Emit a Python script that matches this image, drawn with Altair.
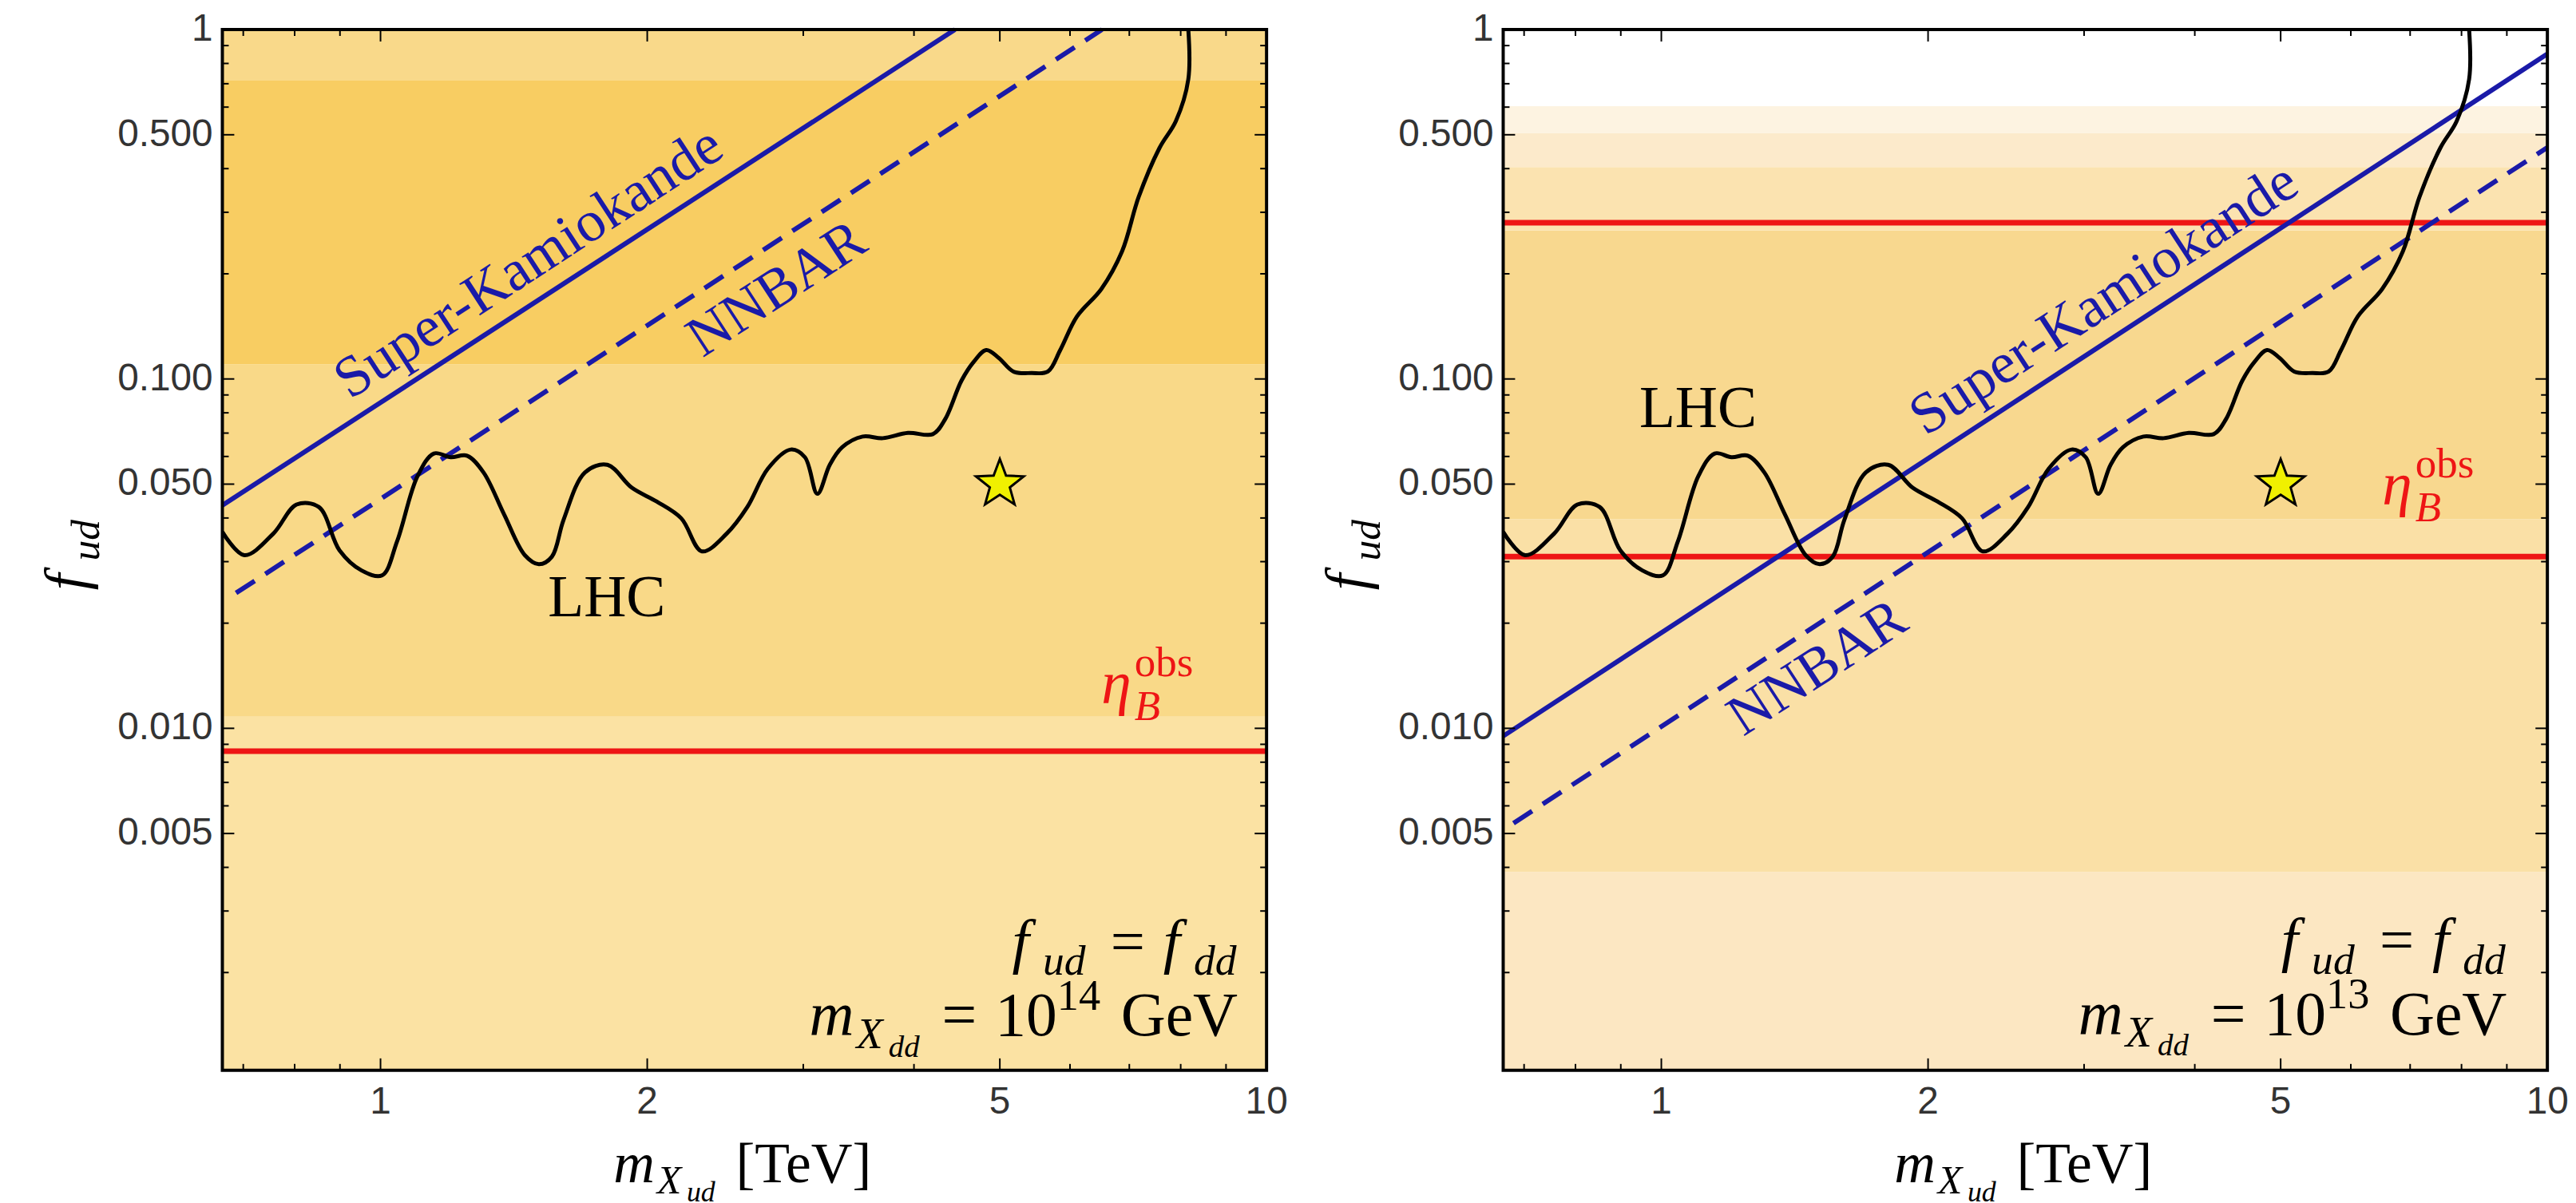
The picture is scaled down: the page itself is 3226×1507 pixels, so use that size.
import altair as alt
import pandas as pd

# ---------------- data ----------------
X_MIN, X_MAX = 0.663, 10.0
Y_MIN, Y_MAX = 0.00105, 1.0

lhc_m = [0.663, 0.702, 0.757, 0.804, 0.852, 0.899, 0.952, 1.004, 1.044, 1.101, 1.149, 1.200,
         1.252, 1.307, 1.379, 1.455, 1.509, 1.561, 1.609, 1.701, 1.803, 1.922, 2.049, 2.185,
         2.306, 2.459, 2.594, 2.737, 2.904, 3.013, 3.112, 3.214, 3.318, 3.500, 3.690, 3.938,
         4.201, 4.339, 4.525, 4.673, 4.826, 4.984, 5.180, 5.430, 5.665, 5.85, 6.11, 6.51,
         6.87, 7.17, 7.57, 7.90, 8.16, 8.16]
lhc_f = [0.0365, 0.0313, 0.0361, 0.0437, 0.0430, 0.0323, 0.0283, 0.0274, 0.0343, 0.0527, 0.0612, 0.0597,
         0.0603, 0.0540, 0.0409, 0.0313, 0.0295, 0.0310, 0.0395, 0.0540, 0.0568, 0.0488, 0.0446, 0.0399,
         0.0321, 0.0361, 0.0430, 0.0554, 0.0628, 0.0597, 0.0469, 0.0568, 0.0637, 0.0684, 0.0677, 0.0701,
         0.0695, 0.0768, 0.0988, 0.112, 0.121, 0.115, 0.105, 0.104, 0.105, 0.121, 0.151, 0.181,
         0.232, 0.331, 0.458, 0.547, 0.721, 1.0]

left_sk_m, left_sk_f = [0.663, 4.45], [0.0435, 1.0]
left_nn_m, left_nn_f = [0.687, 6.52], [0.0244, 1.0]
right_sk_m, right_sk_f = [0.663, 10.0], [0.0095, 0.852]
right_nn_m, right_nn_f = [0.681, 10.0], [0.00535, 0.46]

left_eta = [0.0086]
right_eta = [0.28, 0.031]

left_band_lo = [Y_MIN, 0.0108, 0.110, 0.714]
left_band_hi = [0.0108, 0.110, 0.714, 1.0]
left_band_col = ["#FBE2A3", "#F9D988", "#F8CD62", "#F9D98A"]

right_band_lo = [Y_MIN, 0.00388, 0.0397, 0.266, 0.404, 0.506]
right_band_hi = [0.00388, 0.0397, 0.266, 0.404, 0.506, 0.604]
right_band_col = ["#FCE7C2", "#FAE0A6", "#F8D88F", "#FBE3B0", "#FCEACB", "#FDF3E1"]

star_m, star_f = [5.0], [0.05]

x_major = [1, 2, 5, 10]
x_major_lbl = ["1", "2", "5", "10"]
x_minor = [0.7, 0.8, 0.9, 3, 4, 6, 7, 8, 9]
y_major = [0.005, 0.01, 0.05, 0.1, 0.5, 1.0]
y_major_lbl = ["0.005", "0.010", "0.050", "0.100", "0.500", "1"]
y_minor = [0.002, 0.003, 0.004, 0.006, 0.007, 0.008, 0.009, 0.02, 0.03, 0.04, 0.06, 0.07,
           0.08, 0.09, 0.2, 0.3, 0.4, 0.6, 0.7, 0.8, 0.9]

# label anchor positions (data coordinates)
left_sk_lbl, right_sk_lbl = (1.47, 0.215), (3.16, 0.169)
left_nn_lbl, right_nn_lbl = (2.80, 0.181), (1.50, 0.0149)
left_lhc_lbl, right_lhc_lbl = (1.80, 0.0235), (1.10, 0.0818)
left_eta_lbl, right_eta_lbl = (6.51, 0.0118), (6.51, 0.0438)
left_note = (9.28, 0.00215, 0.00132)
right_note = (9.0, 0.00217, 0.00133)
left_exp, right_exp = "14", "13"

# ---------------- style ----------------
W, H = 1315, 1311
SERIF = "Liberation Serif"
SANS = "Liberation Sans"
BLUE = "#1A1AA8"
RED = "#EE1515"
ANGLE = 326.9
STAR = ("M0,-1 L0.247,-0.340 L0.951,-0.309 L0.399,0.130 L0.588,0.809 L0,0.42 "
        "L-0.588,0.809 L-0.399,0.130 L-0.951,-0.309 L-0.247,-0.340 Z")

xs = alt.Scale(type="log", domain=[X_MIN, X_MAX], nice=False)
ys = alt.Scale(type="log", domain=[Y_MIN, Y_MAX], nice=False)


def XE(field="x"):
    return alt.X(f"{field}:Q", scale=xs, axis=None)


def YE(field="y"):
    return alt.Y(f"{field}:Q", scale=ys, axis=None)


def compose(pieces, S, align):
    out, cur = [], 0.0
    for txt, sf, it, dyf, pre, adv in pieces:
        cur += pre
        out.append((txt, sf * S, it, cur * S, dyf * S))
        cur += adv
    total = cur * S
    shift = {"left": 0.0, "center": -total / 2, "right": -total}[align]
    return [(t, s, it, dx + shift, dy) for t, s, it, dx, dy in out]


def rich(xe, ye, pieces, S, align, color, angle=0, df=None):
    if df is None:
        df = pd.DataFrame({"x": [0], "y": [0]})
    layers = []
    for txt, size, it, dx, dy in compose(pieces, S, align):
        layers.append(alt.Chart(df).mark_text(
            text=txt, font=SERIF, fontSize=size, fontStyle="italic" if it else "normal",
            align="left", baseline="alphabetic", dx=dx, dy=dy, color=color, angle=angle
        ).encode(x=xe, y=ye))
    return layers


def pt(x, y):
    return pd.DataFrame({"x": [x], "y": [y]})


def ticks():
    layers = []
    for vals, ln in ((x_major, 15), (x_minor, 8)):
        d = pd.DataFrame({"v": vals})
        layers.append(alt.Chart(d).mark_rule(color="black", strokeWidth=2).encode(
            x=XE("v"), y=alt.value(H), y2=alt.value(H - ln)))
        layers.append(alt.Chart(d).mark_rule(color="black", strokeWidth=2).encode(
            x=XE("v"), y=alt.value(0), y2=alt.value(ln)))
    for vals, ln in ((y_major, 15), (y_minor, 8)):
        d = pd.DataFrame({"v": vals})
        layers.append(alt.Chart(d).mark_rule(color="black", strokeWidth=2).encode(
            y=YE("v"), x=alt.value(0), x2=alt.value(ln)))
        layers.append(alt.Chart(d).mark_rule(color="black", strokeWidth=2).encode(
            y=YE("v"), x=alt.value(W), x2=alt.value(W - ln)))
    # tick labels
    xl = pd.DataFrame({"v": x_major, "t": x_major_lbl})
    layers.append(alt.Chart(xl).mark_text(
        font=SANS, fontSize=48, color="#333333", align="center", baseline="top").encode(
        x=XE("v"), y=alt.value(H + 17), text="t:N"))
    yl = pd.DataFrame({"v": y_major, "t": y_major_lbl})
    layers.append(alt.Chart(yl).mark_text(
        font=SANS, fontSize=48, color="#333333", align="right", baseline="middle").encode(
        y=YE("v"), x=alt.value(-12), text="t:N"))
    return layers


def panel(band_lo, band_hi, band_col, eta_vals, sk_m, sk_f, nn_m, nn_f,
          sk_lbl, nn_lbl, lhc_lbl, eta_lbl, note, exp):
    bdf = pd.DataFrame({"lo": band_lo, "hi": band_hi, "c": band_col,
                        "x0": [X_MIN] * len(band_lo), "x1": [X_MAX] * len(band_lo)})
    bands = alt.Chart(bdf).mark_rect().encode(
        x=XE("x0"), x2="x1:Q", y=YE("lo"), y2="hi:Q",
        color=alt.Color("c:N", scale=None),
    )
    layers = [bands]

    layers.append(alt.Chart(pd.DataFrame({"f": eta_vals})).mark_rule(
        color=RED, strokeWidth=7).encode(y=YE("f")))

    sk = pd.DataFrame({"m": sk_m, "f": sk_f})
    nn = pd.DataFrame({"m": nn_m, "f": nn_f})
    layers.append(alt.Chart(sk).mark_line(color=BLUE, strokeWidth=6).encode(x=XE("m"), y=YE("f")))
    layers.append(alt.Chart(nn).mark_line(color=BLUE, strokeWidth=6, strokeDash=[28, 16]).encode(
        x=XE("m"), y=YE("f")))

    lhc = pd.DataFrame({"m": lhc_m, "f": lhc_f, "i": list(range(len(lhc_m)))})
    layers.append(alt.Chart(lhc).mark_line(color="black", strokeWidth=5, clip=True,
                                           interpolate="catmull-rom").encode(
        x=XE("m"), y=YE("f"), order="i:Q"))

    layers.append(alt.Chart(pd.DataFrame({"m": star_m, "f": star_f})).mark_point(
        shape=STAR, size=4000, filled=True, fill="#F0F000", stroke="black", strokeWidth=3,
        opacity=1).encode(x=XE("m"), y=YE("f")))

    # labels
    layers.append(alt.Chart(pt(*sk_lbl)).mark_text(
        text="Super-Kamiokande", font=SERIF, fontSize=73, color=BLUE, angle=ANGLE,
        align="center", baseline="middle").encode(x=XE(), y=YE()))
    layers.append(alt.Chart(pt(*nn_lbl)).mark_text(
        text="NNBAR", font=SERIF, fontSize=72, color=BLUE, angle=ANGLE,
        align="center", baseline="middle").encode(x=XE(), y=YE()))
    layers.append(alt.Chart(pt(*lhc_lbl)).mark_text(
        text="LHC", font=SERIF, fontSize=74, color="black",
        align="center", baseline="middle").encode(x=XE(), y=YE()))

    eta_p = [("η", 1, True, 0, 0, 0.55), ("B", 0.7, True, 0.28, 0, 0.0),
             ("obs", 0.7, False, -0.45, 0, 1.0)]
    layers += rich(XE(), YE(), eta_p, 76, "left", RED, df=pt(*eta_lbl))

    l1 = [("f", 1, True, 0, 0, 0.5), ("ud", 0.7, True, 0.22, 0, 0.78),
          ("=", 1, False, 0, 0.33, 0.86), ("f", 1, True, 0, 0, 0.5),
          ("dd", 0.7, True, 0.22, 0, 0.72)]
    l2 = [("m", 1, True, 0, 0, 0.76), ("X", 0.7, True, 0.2, 0, 0.52),
          ("dd", 0.5, True, 0.34, 0, 0.56), ("=", 1, False, 0, 0.30, 0.86),
          ("10", 1, False, 0, 0, 1.0), (exp, 0.7, False, -0.42, 0, 0.75),
          ("GeV", 1, False, 0, 0.28, 1.888)]
    layers += rich(XE(), YE(), l1, 77, "right", "black", df=pt(note[0], note[1]))
    layers += rich(XE(), YE(), l2, 78, "right", "black", df=pt(note[0], note[2]))

    # axis titles
    xt = [("m", 1, True, 0, 0, 0.76), ("X", 0.7, True, 0.2, 0, 0.52),
          ("ud", 0.5, True, 0.34, 0, 0.56), ("[TeV]", 1, False, 0, 0.3, 2.443)]
    layers += rich(alt.value(W / 2), alt.value(H + 141), xt, 72, "center", "black")
    yt = [("f", 1, True, 0, 0, 0.5), ("ud", 0.7, True, 0.22, 0, 0.76)]
    layers += rich(alt.value(-172), alt.value(H / 2 + 4), yt, 74, "center", "black", angle=270)

    layers += ticks()

    layers.append(alt.Chart(pd.DataFrame({"a": [0]})).mark_rect(
        fillOpacity=0, stroke="black", strokeWidth=4).encode(
        x=alt.value(0), x2=alt.value(W), y=alt.value(0), y2=alt.value(H)))

    return alt.layer(*layers).properties(width=W, height=H)


left = panel(left_band_lo, left_band_hi, left_band_col, left_eta, left_sk_m, left_sk_f,
             left_nn_m, left_nn_f, left_sk_lbl, left_nn_lbl, left_lhc_lbl, left_eta_lbl,
             left_note, left_exp)
right = panel(right_band_lo, right_band_hi, right_band_col, right_eta, right_sk_m, right_sk_f,
              right_nn_m, right_nn_f, right_sk_lbl, right_nn_lbl, right_lhc_lbl, right_eta_lbl,
              right_note, right_exp)

chart = alt.hconcat(left, right, spacing=298, bounds="flush").configure_view(
    stroke="transparent").properties(
    padding={"left": 40, "top": 0, "right": 0, "bottom": 0}, background="white")

chart.save("out.html", embed_options={"renderer": "svg", "actions": False})
